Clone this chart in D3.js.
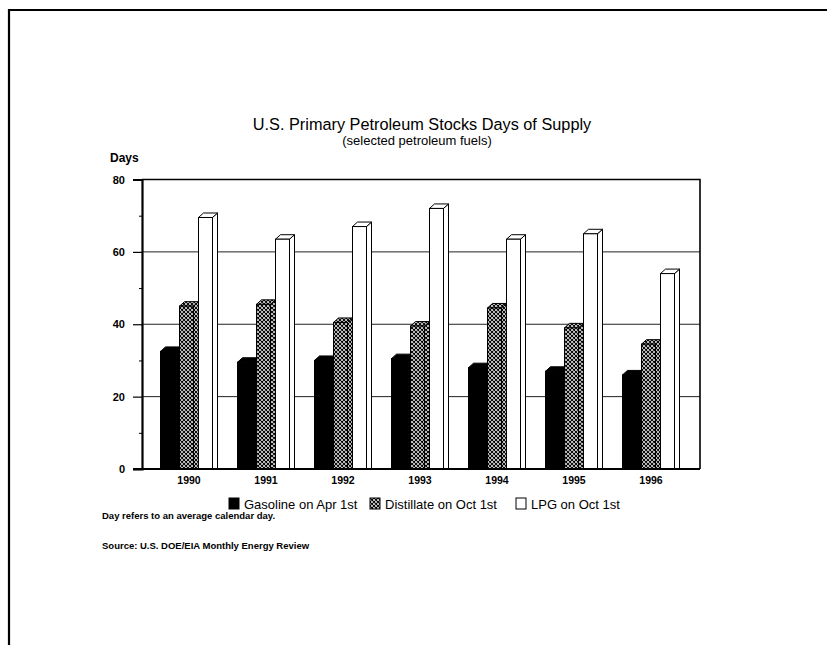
<!DOCTYPE html>
<html>
<head>
<meta charset="utf-8">
<script src="https://cdn.jsdelivr.net/npm/d3@7/dist/d3.min.js"></script>
<style>
  html, body { margin: 0; padding: 0; background: #fff; }
  svg { display: block; font-family: Arial, "Liberation Sans", sans-serif; }
</style>
</head>
<body>
<svg id="chart" width="827" height="645"></svg>
<script>
// Days of supply, by year and product
const years = ["1990", "1991", "1992", "1993", "1994", "1995", "1996"];
const gasoline = [32.5, 29.5, 30, 30.5, 28, 27, 26];
const distillate = [45, 45.5, 40.5, 39.5, 44.5, 39, 34.5];
const lpg = [69.5, 63.5, 67, 72, 63.5, 65, 54];
const seriesKeys = ["gasoline", "distillate", "lpg"];
const seriesLabels = ["Gasoline on Apr 1st", "Distillate on Oct 1st", "LPG on Oct 1st"];
const yTicks = [0, 20, 40, 60, 80];
const yMinorTicks = [10, 30, 50, 70];

const seriesValues = { gasoline, distillate, lpg };

const svg = d3.select("#chart");

// crosshatch fill for distillate
const defs = svg.append("defs");
const pat = defs.append("pattern")
  .attr("id", "hatch")
  .attr("patternUnits", "userSpaceOnUse")
  .attr("width", 4).attr("height", 4);
pat.append("rect").attr("width", 4).attr("height", 4).attr("fill", "#fff");
pat.append("path")
  .attr("d", "M0,0 L4,4 M4,0 L0,4 M-1,3 L1,5 M3,-1 L5,1 M3,5 L5,3 M-1,1 L1,-1")
  .attr("stroke", "#000").attr("stroke-width", 1.1);

const fills = { gasoline: "#000", distillate: "url(#hatch)", lpg: "#fff" };

// page frame
svg.append("path")
  .attr("d", "M9,645 L9,10 L827,10")
  .attr("fill", "none").attr("stroke", "#000").attr("stroke-width", 2.2);

// plot geometry
const plot = { left: 142, right: 700, top: 179.5, bottom: 469 };

const x = d3.scaleBand().domain(years).range([150.5, 689.5]).padding(0);
const y = d3.scaleLinear().domain([0, 80]).range([plot.bottom, plot.top]);

const frontW = 14, depthX = 5, depthY = 4.5, stride = 19;
const xs = d3.scaleBand().domain(seriesKeys).range([0, stride * 3]);

// horizontal grid on the back wall
svg.append("g")
  .selectAll("line")
  .data([20, 40, 60])
  .join("line")
  .attr("x1", plot.left).attr("x2", plot.right)
  .attr("y1", d => y(d)).attr("y2", d => y(d))
  .attr("stroke", "#222").attr("stroke-width", 1);

// plot frame: top and right edges
svg.append("path")
  .attr("d", `M${plot.left},${plot.top} L${plot.right},${plot.top} L${plot.right},${plot.bottom}`)
  .attr("fill", "none").attr("stroke", "#000").attr("stroke-width", 1.6);

// 3D bars
const bars = svg.append("g");
years.forEach((yr, i) => {
  const groupStart = x(yr) + x.bandwidth() / 2 - (stride * 2 + frontW + depthX) / 2;
  seriesKeys.forEach(k => {
    const v = seriesValues[k][i];
    const x0 = groupStart + xs(k);
    const x1 = x0 + frontW;
    const yt = y(v), yb = y(0);
    const g = bars.append("g");
    const stroke = "#000";
    // side face
    g.append("path")
      .attr("d", `M${x1},${yb} L${x1},${yt} L${x1 + depthX},${yt - depthY} L${x1 + depthX},${yb} Z`)
      .attr("fill", fills[k]).attr("stroke", stroke).attr("stroke-width", 1).attr("stroke-linejoin", "round");
    // top face
    g.append("path")
      .attr("d", `M${x0},${yt} L${x0 + depthX},${yt - depthY} L${x1 + depthX},${yt - depthY} L${x1},${yt} Z`)
      .attr("fill", fills[k]).attr("stroke", stroke).attr("stroke-width", 1).attr("stroke-linejoin", "round");
    // front face
    g.append("rect")
      .attr("x", x0).attr("y", yt)
      .attr("width", frontW).attr("height", yb - yt)
      .attr("fill", fills[k]).attr("stroke", stroke).attr("stroke-width", 1);
  });
});

// left axis with major and minor ticks
const yAxis = d3.axisLeft(y).tickValues(yTicks).tickSize(9).tickPadding(8).tickFormat(d3.format("d"));
const ya = svg.append("g").attr("transform", `translate(${plot.left},0)`).call(yAxis);
ya.select(".domain").attr("stroke-width", 2.2);
ya.selectAll(".tick line").attr("stroke-width", 1.2);
ya.selectAll(".tick text")
  .attr("font-size", 11).attr("font-weight", "bold").attr("font-family", "Arial, 'Liberation Sans', sans-serif").attr("fill", "#000");
svg.append("g").attr("transform", `translate(${plot.left},0)`)
  .call(d3.axisLeft(y).tickValues(yMinorTicks).tickSize(3).tickFormat(""))
  .call(g => g.select(".domain").remove());

// bottom axis line and year labels
svg.append("line")
  .attr("x1", plot.left - 9).attr("x2", plot.right)
  .attr("y1", plot.bottom).attr("y2", plot.bottom)
  .attr("stroke", "#000").attr("stroke-width", 2.2);

svg.append("g")
  .selectAll("text")
  .data(years)
  .join("text")
  .attr("x", d => x(d) + x.bandwidth() / 2)
  .attr("y", 484)
  .attr("text-anchor", "middle")
  .attr("font-size", 10.5).attr("font-weight", "bold")
  .text(d => d);

// titles
svg.append("text")
  .attr("x", 422).attr("y", 130)
  .attr("text-anchor", "middle").attr("font-size", 16.3)
  .text("U.S. Primary Petroleum Stocks Days of Supply");
svg.append("text")
  .attr("x", 417).attr("y", 145)
  .attr("text-anchor", "middle").attr("font-size", 13)
  .text("(selected petroleum fuels)");
svg.append("text")
  .attr("x", 110).attr("y", 162)
  .attr("font-size", 12).attr("font-weight", "bold")
  .text("Days");

// legend
const legend = svg.append("g").attr("transform", "translate(229,0)");
const legendX = [0, 141, 287];
seriesKeys.forEach((k, i) => {
  const lg = legend.append("g").attr("transform", `translate(${legendX[i]},498)`);
  lg.append("rect").attr("width", 10).attr("height", 11)
    .attr("fill", fills[k]).attr("stroke", "#000").attr("stroke-width", 1);
  lg.append("text").attr("x", 15).attr("y", 11)
    .attr("font-size", 13).text(seriesLabels[i]);
});

// notes
svg.append("text")
  .attr("x", 102).attr("y", 519)
  .attr("font-size", 9.5).attr("font-weight", "bold")
  .text("Day refers to an average calendar day.");
svg.append("text")
  .attr("x", 102).attr("y", 549)
  .attr("font-size", 9.5).attr("font-weight", "bold")
  .text("Source: U.S. DOE/EIA Monthly Energy Review");
</script>
</body>
</html>
